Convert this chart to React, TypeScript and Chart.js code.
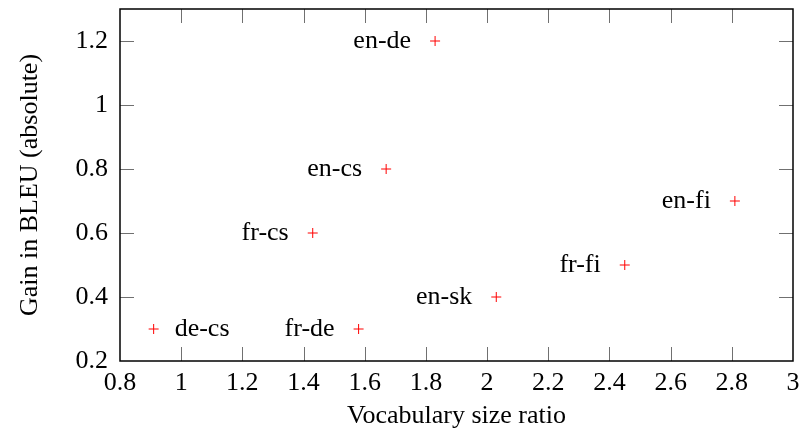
import React, { useEffect, useRef } from "react";
import { Chart, registerables } from "chart.js";

Chart.register(...registerables);

const pairLabels = ["de-cs", "fr-de", "en-sk", "fr-cs", "en-cs", "en-de", "fr-fi", "en-fi"];
const vocabRatio = [0.91, 1.58, 2.03, 1.43, 1.67, 1.83, 2.45, 2.81];
const bleuGain = [0.3, 0.3, 0.4, 0.6, 0.8, 1.2, 0.5, 0.7];
const labelSide = ["right", "left", "left", "left", "left", "left", "left", "left"];
const xTicks = [0.8, 1, 1.2, 1.4, 1.6, 1.8, 2, 2.2, 2.4, 2.6, 2.8, 3];
const yTicks = [0.2, 0.4, 0.6, 0.8, 1, 1.2];

const FONT = "'Liberation Serif', 'Times New Roman', serif";
const FS = 26;

const framePlugin = {
  id: "frameAndLabels",
  afterDatasetsDraw(chart: any) {
    const { ctx, chartArea, scales } = chart;
    const { left, right, top, bottom } = chartArea;
    ctx.save();
    ctx.strokeStyle = "#707070";
    ctx.lineWidth = 1;
    const tl = 14;
    ctx.beginPath();
    for (const v of xTicks) {
      const x = Math.round(scales.x.getPixelForValue(v)) + 0.5;
      if (Math.abs(x - left) < 2 || Math.abs(x - right) < 2) continue;
      ctx.moveTo(x, bottom);
      ctx.lineTo(x, bottom - tl);
      ctx.moveTo(x, top);
      ctx.lineTo(x, top + tl);
    }
    for (const v of yTicks) {
      const y = Math.round(scales.y.getPixelForValue(v)) + 0.5;
      if (Math.abs(y - bottom) < 2 || Math.abs(y - top) < 2) continue;
      ctx.moveTo(left, y);
      ctx.lineTo(left + tl, y);
      ctx.moveTo(right, y);
      ctx.lineTo(right - tl, y);
    }
    ctx.stroke();
    ctx.strokeStyle = "#000";
    ctx.lineWidth = 1.5;
    ctx.strokeRect(left, top, right - left, bottom - top);
    ctx.fillStyle = "#000";
    ctx.font = `${FS}px ${FONT}`;
    ctx.textBaseline = "middle";
    pairLabels.forEach((lab, i) => {
      const px = scales.x.getPixelForValue(vocabRatio[i]);
      const py = scales.y.getPixelForValue(bleuGain[i]);
      if (labelSide[i] === "right") {
        ctx.textAlign = "left";
        ctx.fillText(lab, px + 21, py);
      } else {
        ctx.textAlign = "right";
        ctx.fillText(lab, px - 24, py);
      }
    });
    ctx.restore();
  },
};

export default function App() {
  const ref = useRef<HTMLCanvasElement>(null);
  useEffect(() => {
    document.body.style.margin = "0";
    const chart = new Chart(ref.current!, {
      type: "scatter",
      data: {
        datasets: [
          {
            data: vocabRatio.map((x, i) => ({ x, y: bleuGain[i] })),
            pointStyle: "cross",
            radius: 5,
            borderColor: "#ff0000",
            backgroundColor: "#ff0000",
            borderWidth: 1,
          },
        ],
      },
      options: {
        animation: false,
        responsive: false,
        layout: { padding: { top: 9, right: 7, left: 0, bottom: 0 } },
        plugins: { legend: { display: false }, tooltip: { enabled: false } },
        scales: {
          x: {
            type: "linear",
            min: 0.8,
            max: 3,
            afterBuildTicks: (s: any) => {
              s.ticks = xTicks.map((v) => ({ value: v }));
            },
            afterFit: (s: any) => {
              s.height = 69;
              s.paddingLeft = 0;
              s.paddingRight = 0;
            },
            grid: { display: false, drawTicks: false },
            border: { display: false },
            ticks: {
              padding: 7,
              color: "#000",
              font: { family: FONT, size: FS },
              maxRotation: 0,
              autoSkip: false,
              callback: (v: any) => String(Math.round(Number(v) * 10) / 10),
            },
            title: {
              display: true,
              text: "Vocabulary size ratio",
              color: "#000",
              font: { family: FONT, size: FS, lineHeight: 1 },
              padding: { top: 0, bottom: 1 },
            },
          },
          y: {
            type: "linear",
            min: 0.2,
            max: 1.3,
            afterBuildTicks: (s: any) => {
              s.ticks = yTicks.map((v) => ({ value: v }));
            },
            afterFit: (s: any) => {
              s.width = 120;
              s.paddingTop = 0;
              s.paddingBottom = 0;
            },
            grid: { display: false, drawTicks: false },
            border: { display: false },
            ticks: {
              padding: 12,
              color: "#000",
              font: { family: FONT, size: FS },
              autoSkip: false,
              callback: (v: any) => String(Math.round(Number(v) * 10) / 10),
            },
            title: {
              display: true,
              text: "Gain in BLEU (absolute)",
              color: "#000",
              font: { family: FONT, size: FS, lineHeight: 1 },
              padding: { top: 17, bottom: 0 },
            },
          },
        },
      },
      plugins: [framePlugin],
    });
    return () => chart.destroy();
  }, []);
  return (
    <div style={{ width: 800, height: 430 }}>
      <canvas ref={ref} width={800} height={430} style={{ display: "block" }} />
    </div>
  );
}
